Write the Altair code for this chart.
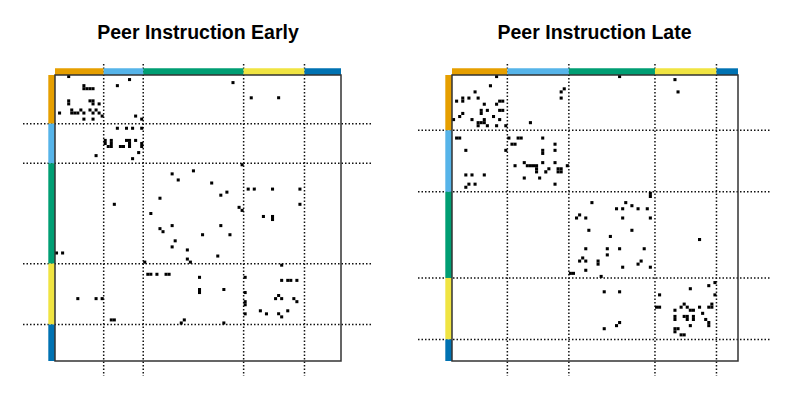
import altair as alt
import pandas as pd

group_colors = ["#E69F00", "#56B4E9", "#009E73", "#F0E442", "#0072B2"]
early_sizes = [16, 13, 33, 20, 12]
late_sizes = [18, 20, 28, 20, 7]
titles = ["Peer Instruction Early", "Peer Instruction Late"]

# (row, col) of each recorded tie
early_ties = [
    (0, 4), (1, 24), (3, 20), (3, 9), (4, 9), (4, 10), (4, 11), (4, 12),
    (8, 4), (9, 4), (8, 11), (8, 12), (9, 12), (9, 14),
    (12, 1), (11, 5), (12, 5), (12, 6), (12, 7), (11, 8), (12, 9), (14, 9),
    (11, 11), (12, 12), (11, 13), (12, 14), (13, 15), (14, 12), (13, 26), (14, 28),
    (17, 20), (17, 23), (17, 25), (17, 28),
    (21, 16), (22, 16), (21, 18), (22, 18), (23, 18), (23, 17), (23, 21), (23, 22),
    (21, 23), (21, 24), (22, 24), (23, 24), (21, 26), (22, 28), (23, 28), (25, 27),
    (26, 13), (27, 25),
    (2, 58), (7, 64), (7, 73),
    (29, 61), (31, 45), (32, 38), (34, 40), (35, 51), (39, 54), (38, 56), (37, 63),
    (37, 65), (37, 71), (37, 80), (42, 80), (40, 34), (42, 19), (45, 31), (43, 60),
    (44, 61), (46, 68), (46, 71), (47, 71), (49, 38), (49, 54), (50, 34), (51, 35),
    (52, 48), (52, 57), (54, 39), (56, 38), (58, 0), (58, 2), (57, 43), (59, 53),
    (60, 43), (61, 44), (61, 29), (62, 74),
    (65, 30), (65, 31), (65, 33), (65, 36), (65, 37), (66, 47), (66, 62), (67, 74),
    (67, 76), (67, 77), (67, 79), (70, 47), (71, 47), (70, 55), (71, 62), (73, 7),
    (73, 13), (73, 15), (74, 62), (75, 62), (73, 72), (72, 73), (73, 74), (73, 78),
    (74, 79), (78, 62), (77, 67), (78, 69), (78, 73), (79, 74), (77, 76), (80, 18),
    (80, 19), (80, 42), (81, 41), (81, 55),
]

late_ties = [
    (0, 14), (3, 12), (5, 7), (8, 1), (7, 3), (8, 3), (7, 5), (7, 8), (8, 15), (8, 16),
    (9, 14), (9, 10), (11, 9), (12, 9), (11, 11), (11, 15), (11, 16), (12, 3), (13, 2),
    (14, 0), (14, 6), (15, 8), (16, 8), (15, 9), (14, 10), (15, 10), (13, 13), (14, 15),
    (16, 11), (16, 14), (16, 17), (15, 25), (4, 36), (5, 35), (7, 35), (0, 54), (1, 72),
    (5, 73),
    (20, 1), (20, 2), (24, 4), (24, 17), (32, 4), (32, 6), (32, 10), (36, 4), (35, 5),
    (35, 7), (20, 18), (20, 21), (20, 22), (20, 29), (22, 19), (22, 20), (24, 29),
    (25, 29), (22, 33), (24, 33), (29, 20), (28, 23), (29, 24), (29, 25), (29, 26),
    (29, 27), (30, 27), (31, 27), (28, 29), (33, 28), (33, 23), (31, 30), (30, 31),
    (28, 33), (30, 34), (30, 35), (31, 34), (31, 35), (35, 33), (29, 37),
    (38, 64), (39, 64), (41, 45), (41, 56), (43, 53), (43, 55), (42, 58), (43, 60),
    (43, 63), (46, 40), (45, 41), (46, 43), (46, 55), (46, 64), (50, 44), (50, 58),
    (52, 51), (56, 43), (56, 50), (56, 54), (56, 62), (58, 50), (59, 42), (60, 41),
    (60, 43), (60, 47), (61, 47), (60, 61), (61, 60), (62, 55), (62, 64), (63, 43),
    (64, 38), (64, 39), (65, 48), (53, 80),
    (70, 49), (70, 54), (81, 53), (80, 54), (82, 49),
    (71, 67), (75, 66), (75, 67), (76, 72), (75, 74), (74, 75), (75, 76), (76, 77),
    (76, 78), (75, 80), (74, 84), (75, 83), (75, 84), (68, 83), (67, 85), (71, 85),
    (69, 77), (78, 72), (79, 72), (78, 75), (78, 76), (79, 76), (78, 78), (79, 78),
    (77, 81), (79, 82), (80, 83), (81, 83), (82, 72), (82, 73), (83, 72), (81, 77),
    (84, 74), (84, 75),
]

BOX = 286.0


def panel(title, sizes, ties, left_ext, right_ext):
    n = sum(sizes)
    c = BOX / n
    xmin, xmax = -left_ext / c, n + right_ext / c
    ymin, ymax = -11 / c, n + 15 / c
    xs = alt.Scale(domain=[xmin, xmax], nice=False, zero=False)
    ys = alt.Scale(domain=[ymin, ymax], nice=False, zero=False, reverse=True)
    bt = 6.7 / c

    starts, ends = [], []
    s = 0
    for k in sizes:
        starts.append(s)
        s += k
        ends.append(s)
    bounds = ends[:-1]

    bars = pd.DataFrame({"s": starts, "e": ends, "col": group_colors,
                         "b0": [-bt] * len(sizes), "b1": [0] * len(sizes)})
    top_bar = alt.Chart(bars).mark_rect().encode(
        x=alt.X("s:Q", scale=xs, axis=None), x2="e:Q",
        y=alt.Y("b0:Q", scale=ys, axis=None), y2="b1:Q",
        color=alt.Color("col:N", scale=None))
    left_bar = alt.Chart(bars).mark_rect().encode(
        y=alt.Y("s:Q", scale=ys, axis=None), y2="e:Q",
        x=alt.X("b0:Q", scale=xs, axis=None), x2="b1:Q",
        color=alt.Color("col:N", scale=None))

    rl = pd.DataFrame({"b": bounds, "lo_y": [ymin] * len(bounds), "hi_y": [ymax] * len(bounds),
                       "lo_x": [xmin] * len(bounds), "hi_x": [xmax] * len(bounds)})
    dash = dict(strokeDash=[1.5, 2.0], strokeWidth=1.5, color="#111")
    vlines = alt.Chart(rl).mark_rule(**dash).encode(
        x=alt.X("b:Q", scale=xs, axis=None),
        y=alt.Y("lo_y:Q", scale=ys, axis=None), y2="hi_y:Q")
    hlines = alt.Chart(rl).mark_rule(**dash).encode(
        y=alt.Y("b:Q", scale=ys, axis=None),
        x=alt.X("lo_x:Q", scale=xs, axis=None), x2="hi_x:Q")

    td = pd.DataFrame({"r": [t[0] for t in ties], "c": [t[1] for t in ties]})
    td["r2"] = td["r"] + 1
    td["c2"] = td["c"] + 1
    cells = alt.Chart(td).mark_rect(color="black").encode(
        x=alt.X("c:Q", scale=xs, axis=None), x2="c2:Q",
        y=alt.Y("r:Q", scale=ys, axis=None), y2="r2:Q")

    bd = pd.DataFrame({"a": [0], "z": [n]})
    box = alt.Chart(bd).mark_rect(fillOpacity=0, stroke="#333", strokeWidth=1.5).encode(
        x=alt.X("a:Q", scale=xs, axis=None), x2="z:Q",
        y=alt.Y("a:Q", scale=ys, axis=None), y2="z:Q")

    return alt.layer(vlines, hlines, cells, top_bar, left_bar, box).properties(
        width=BOX + left_ext + right_ext, height=BOX + 26,
        title=alt.TitleParams(title, fontSize=19.5, font="Liberation Sans",
                              fontWeight="bold", anchor="middle", offset=20, color="black"))


left = panel(titles[0], early_sizes, early_ties, 32, 32)
right = panel(titles[1], late_sizes, late_ties, 34, 33)

chart = alt.hconcat(left, right, spacing=43).properties(
    padding={"left": 14, "top": 14, "right": 0, "bottom": 0}
).configure_view(stroke=None)

chart.save("out.html", embed_options={"renderer": "svg", "actions": False})
